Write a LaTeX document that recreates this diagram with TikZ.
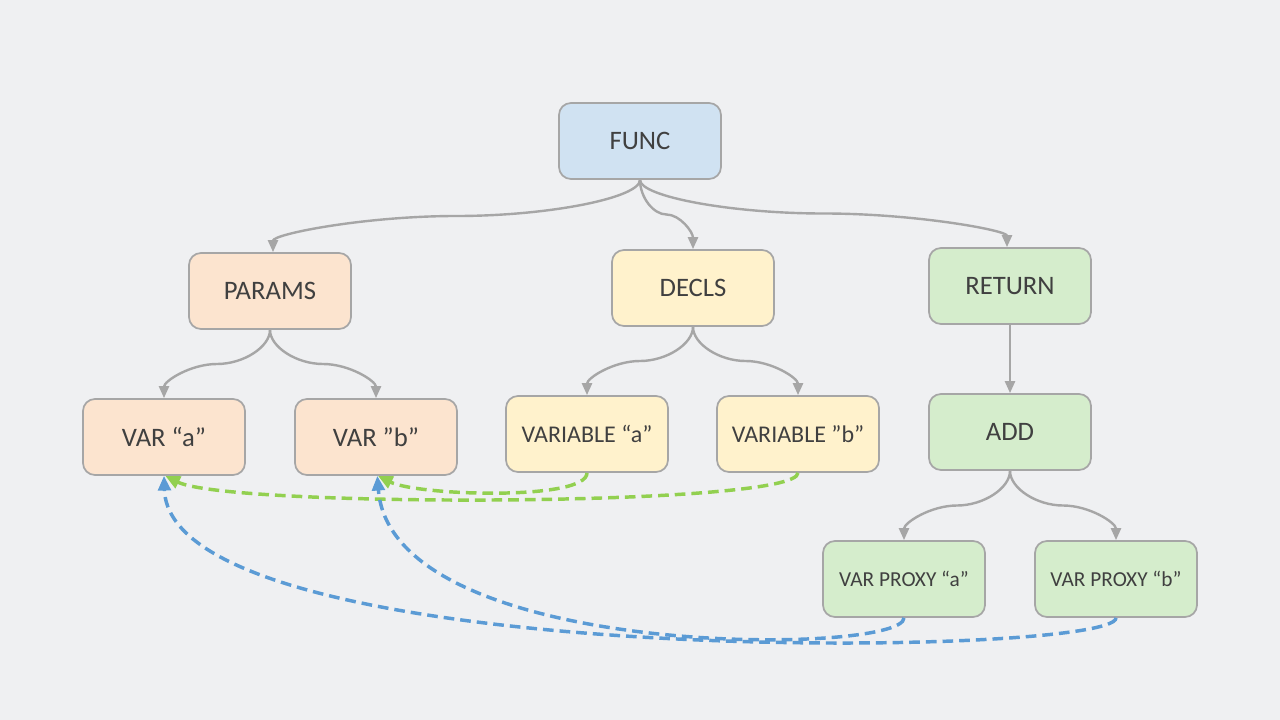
\documentclass[tikz,border=0pt]{standalone}
\usepackage{fontspec}
\setmainfont{Carlito}
\usetikzlibrary{arrows.meta,calc}
\definecolor{bg}{HTML}{EFF0F2}
\definecolor{edge}{HTML}{A6A6A6}
\definecolor{txt}{HTML}{404040}
\definecolor{fblue}{HTML}{D0E2F2}
\definecolor{fpeach}{HTML}{FCE4CF}
\definecolor{fyellow}{HTML}{FFF2CC}
\definecolor{fgreen}{HTML}{D5EDCC}
\definecolor{lgreen}{HTML}{92D050}
\definecolor{lblue}{HTML}{5B9BD5}
\tikzset{
  box/.style={draw=edge, line width=1.3pt, rounded corners=9pt, minimum width=121.5pt, minimum height=57pt, inner sep=0pt, text=txt, font=\fontsize{20}{24}\selectfont},
  small/.style={font=\fontsize{18}{22}\selectfont},
  tiny/.style={font=\fontsize{16}{20}\selectfont},
  conn/.style={draw=edge, line width=1.8pt, -{Triangle[length=9pt,width=7.5pt]}},
  gdash/.style={draw=lgreen, line width=2.6pt, dash pattern=on 8pt off 4.5pt, -{Triangle[length=11pt,width=9.5pt]}},
  bdash/.style={draw=lblue, line width=2.6pt, dash pattern=on 8pt off 4.5pt, -{Triangle[length=11pt,width=9.5pt]}},
}
% curved elbow connector (top to bottom), two cubic halves
\newcommand{\elbowconn}[2]{%
  \draw[conn] let \p1=(#1), \p2=(#2) in
    (\p1) .. controls (\x1,{(3*\y1+\y2)/4}) and ({(3*\x1+\x2)/4},{(\y1+\y2)/2}) ..
    ({(\x1+\x2)/2},{(\y1+\y2)/2}) .. controls ({(\x1+3*\x2)/4},{(\y1+\y2)/2}) and (\x2,{(\y1+3*\y2)/4}) .. (\p2);}
\begin{document}
\begin{tikzpicture}[x=0.75pt,y=-0.75pt]
\fill[bg] (0,0) rectangle (1280,720);
\useasboundingbox (0,0) rectangle (1280,720);

\node[box, fill=fblue] (func) at (640,141) {FUNC};
\node[box, fill=fpeach] (params) at (270,291) {PARAMS};
\node[box, fill=fyellow] (decls) at (693,288) {DECLS};
\node[box, fill=fgreen] (ret) at (1010,286) {RETURN};
\node[box, fill=fpeach] (vara) at (164,437) {VAR “a”};
\node[box, fill=fpeach] (varb) at (376,437) {VAR ”b”};
\node[box, fill=fyellow, small] (vla) at (587,434) {VARIABLE “a”};
\node[box, fill=fyellow, small] (vlb) at (798,434) {VARIABLE ”b”};
\node[box, fill=fgreen] (add) at (1010,432) {ADD};
\node[box, fill=fgreen, tiny] (vpa) at (904,579) {VAR PROXY “a”};
\node[box, fill=fgreen, tiny] (vpb) at (1116,579) {VAR PROXY “b”};

\elbowconn{func.south}{$(params.north)+(3,0)$}
\elbowconn{func.south}{decls.north}
\elbowconn{func.south}{$(ret.north)+(-3,0)$}
\elbowconn{params.south}{vara.north}
\elbowconn{params.south}{varb.north}
\elbowconn{decls.south}{vla.north}
\elbowconn{decls.south}{vlb.north}
\draw[conn] (ret.south) -- (add.north);
\elbowconn{add.south}{vpa.north}
\elbowconn{add.south}{vpb.north}

\draw[gdash] (vla.south) .. controls +(0,28) and +(40,20) .. ([xshift=1.5pt]varb.south);
\draw[gdash] (vlb.south) .. controls +(0,34) and +(64,32) .. ([xshift=1pt]vara.south);
\draw[bdash] (vpa.south) .. controls +(0,38) and +(14,186) .. ([xshift=1pt]varb.south);
\draw[bdash] (vpb.south) .. controls +(0,40) and +(6,196) .. (vara.south);
\end{tikzpicture}
\end{document}
